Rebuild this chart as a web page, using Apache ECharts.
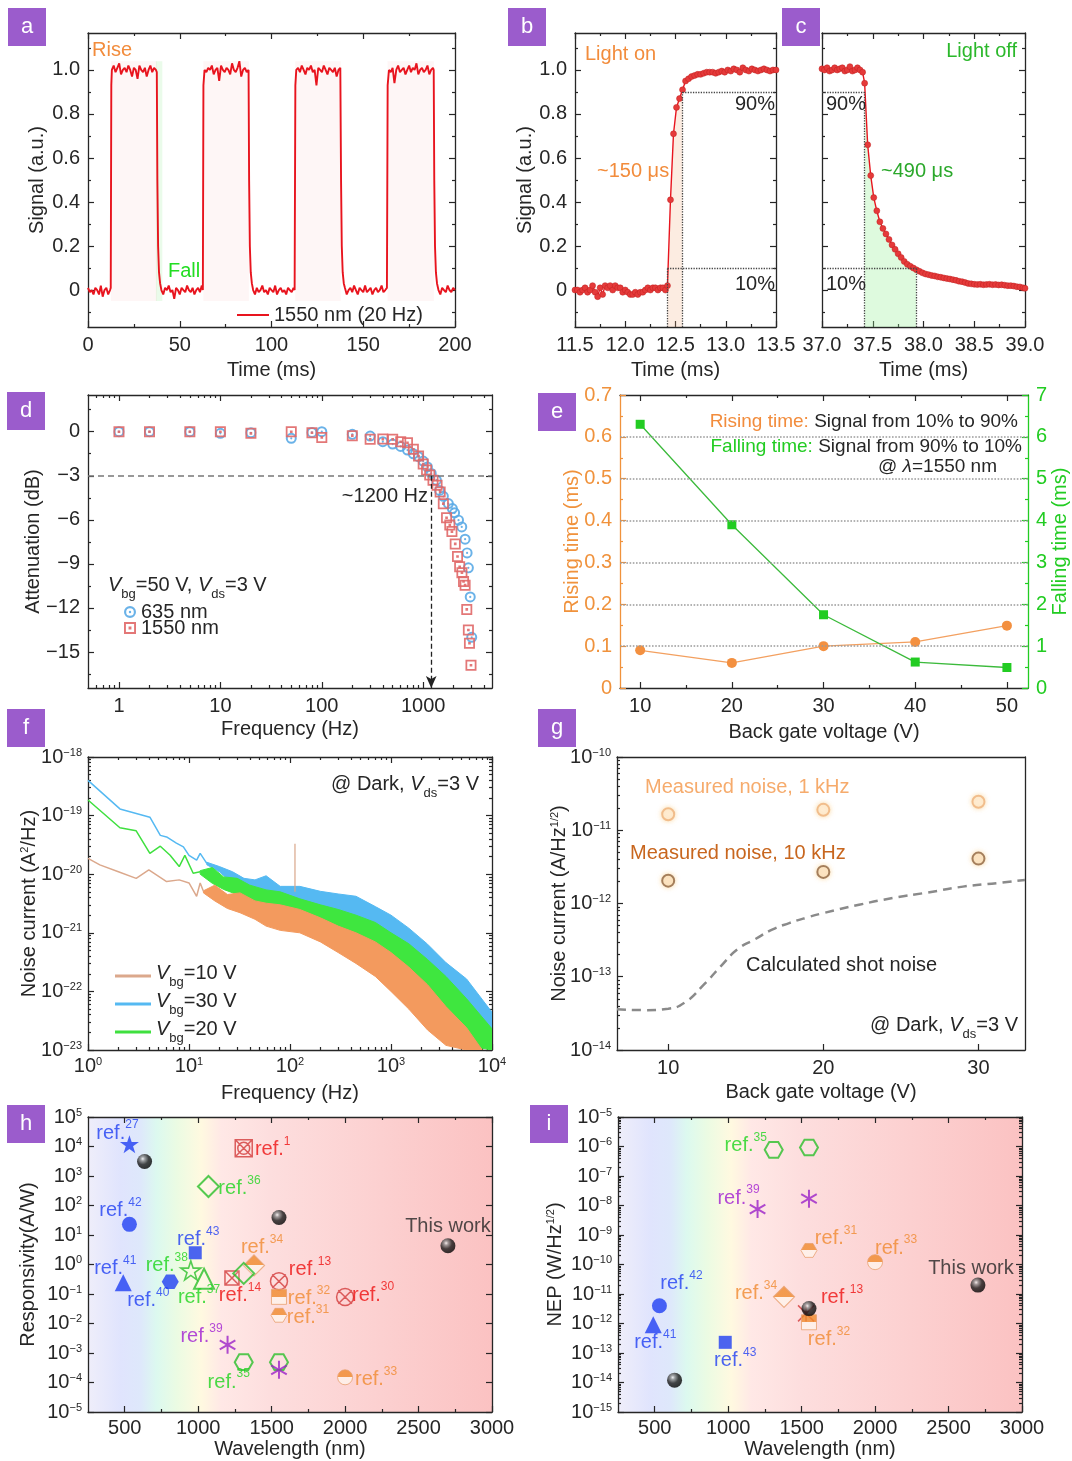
<!DOCTYPE html>
<html>
<head>
<meta charset="utf-8">
<script src="https://cdn.jsdelivr.net/npm/echarts@6/dist/echarts.min.js"></script>
<style>
  html, body { margin: 0; padding: 0; background: #fff; }
  #chart { width: 1072px; height: 1461px; }
</style>
</head>
<body>
<div id="chart"></div>
<script>
// ---------- data ----------

// a: square-wave response, 1550 nm at 20 Hz  [time ms, signal]
const aSignal = [
  [0,0.01],[1,-0.01],[2,0.00],[3,-0.02],[4,0.01],[5,0.00],[6,-0.02],[7,0.02],[8,-0.03],[9,0.00],[10,0.01],[11,-0.02],[12,0.00],[12.4,0.01],
  [12.7,0.93],[13,1.00],[14,1.02],[15,0.99],[16,1.01],[17,1.03],[18,0.98],[19,1.00],[20,1.01],[21,0.99],[22,1.02],[23,1.00],[24,0.97],[25,1.01],
  [26,1.00],[27,0.96],[28,1.02],[29,1.00],[30,0.99],[31,1.01],[32,0.97],[33,1.00],[34,1.02],[35,0.99],[36,1.01],[37,1.00],[37.5,0.99],
  [37.8,0.5],[38.2,0.2],[38.7,0.08],[39.3,0.03],
  [40,0.00],[41,-0.02],[42,0.01],[43,0.00],[44,0.02],[45,-0.01],[46,0.00],[47,-0.04],[48,0.01],[49,0.00],[50,-0.02],[51,0.01],[52,0.00],
  [53,-0.01],[54,0.02],[55,0.00],[56,-0.01],[57,0.01],[58,-0.02],[59,0.00],[60,0.01],[61,-0.01],[62,0.02],[62.6,0.00],
  [62.9,0.93],[63.5,1.00],[64.5,0.99],[65.5,1.01],[66.5,1.00],[67.5,1.02],[68.5,0.98],[69.5,1.00],[70.5,1.01],[71.5,0.95],[72.5,1.02],[73.5,1.00],
  [74.5,0.99],[75.5,1.01],[76.5,1.00],[77.5,0.98],[78.5,1.03],[79.5,1.00],[80.5,0.99],[81.5,1.01],[82.5,1.04],[83.5,0.97],[84.5,1.00],[85.5,1.01],
  [86.5,0.99],[87.5,1.00],
  [87.8,0.5],[88.2,0.2],[88.7,0.08],[89.3,0.03],
  [90,0.00],[91,-0.02],[92,0.01],[93,-0.01],[94,0.00],[95,0.02],[96,-0.01],[97,0.00],[98,-0.02],[99,0.01],[100,0.00],[101,-0.01],[102,0.02],
  [103,-0.02],[104,0.00],[105,0.01],[106,-0.01],[107,0.00],[108,-0.02],[109,0.01],[110,0.00],[111,-0.01],[112,0.01],[112.6,0.00],
  [113,0.93],[113.5,1.00],[114.5,1.01],[115.5,0.99],[116.5,1.02],[117.5,1.00],[118.5,0.98],[119.5,1.01],[120.5,1.00],[121.5,1.02],[122.5,0.99],
  [123.5,1.00],[124.5,0.93],[125.5,1.01],[126.5,1.00],[127.5,0.99],[128.5,1.02],[129.5,1.00],[130.5,0.98],[131.5,1.01],[132.5,1.00],[133.5,0.99],
  [134.5,1.01],[135.5,0.97],[136.5,1.00],[137.5,1.01],
  [137.9,0.5],[138.3,0.2],[138.8,0.08],[139.4,0.03],
  [140,0.01],[141,-0.02],[142,0.00],[143,0.01],[144,-0.01],[145,0.02],[146,0.00],[147,-0.02],[148,0.01],[149,0.00],[150,-0.01],[151,0.02],
  [152,-0.01],[153,0.00],[154,0.01],[155,-0.02],[156,0.00],[157,0.01],[158,-0.01],[159,0.00],[160,0.02],[161,-0.01],[162,0.00],[162.9,0.01],
  [163.3,0.93],[164,1.00],[165,0.99],[166,1.01],[167,0.94],[168,1.00],[169,1.02],[170,0.99],[171,1.00],[172,1.01],[173,0.98],[174,1.00],
  [175,1.02],[176,0.99],[177,1.01],[178,1.00],[179,1.03],[180,0.98],[181,1.00],[182,1.01],[183,0.99],[184,1.00],[185,1.02],[186,0.98],
  [187,1.00],[188,1.01],[188.4,1.00],
  [188.7,0.5],[189.1,0.2],[189.6,0.08],[190.2,0.03],
  [191,0.00],[192,-0.02],[193,0.01],[194,0.00],[195,-0.01],[196,0.02],[197,0.00],[198,-0.01],[199,0.01],[200,0.00]
];
const aOnRanges = [[12.5, 37.6], [62.8, 87.7], [112.9, 137.8], [163.2, 188.5]];
const aFallBand = [37, 40.5];

// b: rising edge
const bSignal = [
  [11.50,0.00],[11.525,0.00],[11.55,-0.01],[11.575,0.00],[11.60,0.01],[11.625,-0.01],[11.65,0.00],[11.675,0.02],[11.70,-0.01],[11.725,-0.03],
  [11.75,0.01],[11.775,-0.02],[11.80,0.02],[11.825,0.01],[11.85,0.02],[11.875,0.00],[11.90,0.02],[11.925,0.01],[11.95,0.01],[11.975,-0.01],
  [12.00,0.00],[12.025,-0.01],[12.05,-0.02],[12.075,-0.02],[12.10,-0.01],[12.125,-0.02],[12.15,-0.01],[12.175,-0.01],[12.20,0.00],[12.225,0.01],
  [12.25,0.00],[12.275,0.01],[12.30,0.01],[12.325,0.00],[12.35,0.01],[12.375,0.01],[12.40,0.00],[12.42,0.02],
  [12.45,0.41],[12.48,0.71],[12.51,0.83],[12.54,0.87],[12.57,0.91],[12.60,0.95],[12.63,0.96],[12.66,0.97],[12.69,0.975],[12.72,0.98],
  [12.75,0.98],[12.78,0.985],[12.81,0.99],[12.84,0.99],[12.87,0.99],[12.90,0.985],[12.93,0.99],[12.96,0.995],[12.99,0.99],[13.02,1.00],
  [13.05,0.995],[13.08,1.005],[13.11,1.00],[13.14,0.99],[13.17,1.01],[13.20,1.00],[13.23,0.995],[13.26,1.005],[13.29,1.00],[13.32,0.995],
  [13.35,1.00],[13.38,1.005],[13.41,1.00],[13.44,0.995],[13.47,1.00],[13.50,1.00]
];
const bRise = [12.42, 12.57];

// c: falling edge
const cSignal = [
  [37.00,1.005],[37.025,1.00],[37.05,1.01],[37.075,0.995],[37.10,1.00],[37.125,1.01],[37.15,1.00],[37.175,1.005],[37.20,1.01],[37.225,0.995],
  [37.25,1.00],[37.275,1.015],[37.30,0.995],[37.325,1.00],[37.35,1.01],[37.375,1.00],[37.40,0.99],[37.42,0.94],
  [37.45,0.66],[37.48,0.52],[37.51,0.42],[37.54,0.36],[37.57,0.31],[37.60,0.28],[37.63,0.255],[37.66,0.23],[37.69,0.205],[37.72,0.185],
  [37.75,0.165],[37.78,0.148],[37.81,0.13],[37.84,0.117],[37.87,0.108],[37.90,0.10],[37.93,0.092],[37.96,0.085],[37.99,0.078],[38.02,0.073],
  [38.05,0.07],[38.08,0.066],[38.11,0.064],[38.14,0.06],[38.17,0.058],[38.20,0.055],[38.23,0.052],[38.26,0.05],[38.29,0.047],[38.32,0.044],
  [38.35,0.04],[38.38,0.038],[38.41,0.034],[38.44,0.03],[38.47,0.028],[38.50,0.026],[38.53,0.025],[38.56,0.026],[38.59,0.024],[38.62,0.025],
  [38.65,0.026],[38.68,0.024],[38.71,0.025],[38.74,0.023],[38.77,0.024],[38.80,0.022],[38.83,0.02],[38.86,0.02],[38.89,0.018],[38.92,0.015],
  [38.95,0.014],[38.98,0.01],[39.00,0.008]
];
const cFall = [37.42, 37.93];

// d: frequency response
const dFreq635 = [1,2,5,10,20,50,80,100,200,300,400,500,600,700,800,900,1000,1100,1200,1350,1450,1580,1770,1940,2040,2230,2400,2590,2710,2790,2910,3010];
const dAtt635  = [0,0,0,-0.11,-0.07,-0.45,-0.05,0,-0.18,-0.3,-0.68,-0.84,-1.0,-1.25,-1.5,-1.7,-2.0,-2.4,-2.84,-3.3,-4.0,-4.4,-4.89,-5.23,-5.52,-6.02,-6.48,-7.32,-8.25,-9.27,-11.25,-14.0];
const dFreq1550 = [1,2,5,10,20,50,80,100,200,300,400,500,600,700,800,900,1000,1080,1160,1250,1370,1470,1580,1700,1830,1920,2070,2180,2290,2410,2500,2590,2690,2790,2860,2960];
const dAtt1550  = [0,0,0,0,-0.11,0,-0.07,-0.39,-0.27,-0.52,-0.5,-0.52,-0.68,-0.75,-1.2,-1.66,-2.2,-2.6,-2.95,-3.3,-3.64,-4.1,-4.9,-5.86,-6.36,-6.8,-7.64,-8.5,-9.2,-9.6,-10.2,-10.45,-12.1,-13.5,-14.4,-15.9];
const dCutoff = 1200;

// e: rise / fall times
const eVolt = [10, 20, 30, 40, 50];
const eRise = [0.09, 0.06, 0.10, 0.11, 0.149];
const eFall = [6.3, 3.9, 1.75, 0.62, 0.49];

// f: noise spectra (single line at low f, noisy band at high f)
const f30LineF = [1, 2.07, 4.1, 5.2, 6.0, 7.5, 8.8, 10, 11.9, 12.9, 15];
const f30Line  = [4.0e-19, 1.3e-19, 9.4e-20, 4.6e-20, 4.33e-20, 3.4e-20, 2.93e-20, 2.1e-20, 1.74e-20, 2.26e-20, 1.53e-20];
const f30BandF = [15, 20, 27, 35, 45, 58, 80, 125, 200, 300, 450, 700, 1000, 1500, 2300, 3500, 5600, 10000];
const f30Hi    = [1.6e-20, 1.35e-20, 1.1e-20, 8.5e-21, 8.0e-21, 9.4e-21, 6.2e-21, 6.2e-21, 5.1e-21, 4.6e-21, 4.2e-21, 2.8e-21, 2.0e-21, 1.2e-21, 6.4e-22, 3.1e-22, 1.63e-22, 4.4e-23];
const f30Lo    = [1.45e-20, 1.1e-20, 7.0e-21, 6.0e-21, 5.0e-21, 4.2e-21, 3.4e-21, 2.5e-21, 1.8e-21, 1.2e-21, 8.5e-22, 5.5e-22, 3.5e-22, 2.0e-22, 1.0e-22, 4.5e-23, 2.0e-23, 1e-23];
const f20LineF = [1, 2.07, 3, 4.1, 5.2, 6.5, 8, 9.1, 11, 12.9];
const f20Line  = [1.85e-19, 6.2e-20, 5.5e-20, 2.26e-20, 3.0e-20, 2.1e-20, 1.35e-20, 2.1e-20, 1.04e-20, 1.1e-20];
const f20BandF = [12.9, 17, 22, 30, 40, 58, 80, 125, 200, 300, 450, 700, 1000, 1500, 2300, 3500, 5600, 10000];
const f20Hi    = [1.15e-20, 1.3e-20, 9.0e-21, 8.5e-21, 6.5e-21, 5.4e-21, 5.0e-21, 3.8e-21, 3.0e-21, 2.5e-21, 2.0e-21, 1.5e-21, 1.0e-21, 6.5e-22, 3.5e-22, 1.8e-22, 7.5e-23, 2.3e-23];
const f20Lo    = [1.0e-20, 7.0e-21, 5.5e-21, 4.5e-21, 3.5e-21, 2.5e-21, 2.0e-21, 1.2e-21, 9.0e-22, 6.8e-22, 4.6e-22, 2.8e-22, 1.6e-22, 9.0e-23, 4.5e-23, 2.2e-23, 1.2e-23, 1e-23];
const f10LineF = [1, 1.31, 2, 3, 4, 6, 8, 10, 11.9, 12.9, 13.9];
const f10Line  = [1.86e-20, 1.44e-20, 1.1e-20, 8.5e-21, 1.18e-20, 7.5e-21, 8e-21, 7.1e-21, 4.2e-21, 7.1e-21, 5.1e-21];
const f10BandF = [13.9, 18, 24, 32, 45, 58, 80, 125, 200, 300, 450, 700, 1000, 1500, 2300, 3500, 5600, 8000];
const f10Hi    = [5.2e-21, 6.5e-21, 4.5e-21, 4.8e-21, 3.5e-21, 3.2e-21, 3.0e-21, 2.5e-21, 1.8e-21, 1.3e-21, 1.0e-21, 7.0e-22, 4.6e-22, 2.6e-22, 1.3e-22, 5.5e-23, 2.4e-23, 1e-23];
const f10Lo    = [4.8e-21, 3.5e-21, 2.6e-21, 2.2e-21, 1.7e-21, 1.3e-21, 1.1e-21, 1.0e-21, 7.0e-22, 4.6e-22, 3.0e-22, 1.8e-22, 1.0e-22, 5.0e-23, 2.2e-23, 1.2e-23, 1e-23, 1e-23];
const f10Spike = [[112, 5e-21], [112, 3.3e-20]];

// g: noise vs gate voltage
const gVolt = [10, 20, 30];
const g1k   = [1.65e-11, 1.9e-11, 2.45e-11];
const g10k  = [2.05e-12, 2.7e-12, 4.1e-12];
const gShotV = [6.7, 8.5, 10, 11.1, 12.25, 13.4, 14.5, 15.6, 16.7, 17.8, 18.9, 20, 22.3, 24.5, 26.7, 29, 31.2, 33];
const gShot  = [3.6e-14, 3.5e-14, 3.66e-14, 4.5e-14, 7.6e-14, 1.4e-13, 2.4e-13, 3.25e-13, 4.4e-13, 5.4e-13, 6.4e-13, 7.4e-13, 9.6e-13, 1.19e-12, 1.41e-12, 1.7e-12, 1.9e-12, 2.1e-12];

// h: responsivity comparison
const hWave = [532, 635, 1070, 1310, 532, 1550, 2700, 980, 1380, 490, 810, 950, 1040, 1230, 1310, 1550, 1550, 1550, 2000, 1200, 1310, 1550, 1550, 2000];
const hResp = [1.2e4, 3.1e3, 440, 8.7e3, 23, 39, 4.3, 2.5, 0.93, 0.24, 0.26, 0.63, 0.33, 0.35, 0.5, 0.27, 0.08, 0.019, 0.079, 1.9e-3, 4.9e-4, 4.9e-4, 2.7e-4, 1.5e-4];
const hKind = ['starB','ball','diaG','sqxcR','circB','ball','ball','sqB','diaO','triB','hexB','starG','triG','sqxR','diaG','cxR','sqO','hexO','cxR','astP','hexG','hexG','astP','circO'];
const hRef  = ['27','','36','1','42','','This work','43','34','41','40','38','37','14','','13','32','31','30','39','35','','','33'];

// i: NEP comparison
const iWave = [1310, 1550, 1200, 1550, 1550, 2000, 2700, 1380, 1530, 1550, 1550, 532, 490, 980, 635];
const iNep  = [7.7e-7, 9.2e-7, 7.6e-9, 1.7e-8, 3.0e-10, 1.2e-10, 2.0e-11, 8e-12, 2.2e-12, 1.1e-12, 3.2e-12, 4e-12, 9e-13, 2.3e-13, 1.2e-14];
const iKind = ['hexG','hexG','astP','astP','hexO','circO','ball','diaO','xR','sqO','ball','circB','triB','sqB','ball'];
const iRef  = ['35','','39','','31','33','This work','34','13','32','','42','41','43',''];

// tick lists
const sigMajor = [0, 0.2, 0.4, 0.6, 0.8, 1.0];
const sigMinor = [-0.1, 0.1, 0.3, 0.5, 0.7, 0.9, 1.1];
const decades = (a, b) => { const r = []; for (let k = a; k <= b; k++) r.push(Math.pow(10, k)); return r; };
const logMinor = (a, b) => { const r = []; for (let k = a; k < b; k++) for (let m = 2; m <= 9; m++) r.push(m * Math.pow(10, k)); return r; };

// ---------- style ----------
const FONT = '"Liberation Sans", Arial, Helvetica, sans-serif';
const INK = '#262626';
const PURPLE = '#9b5ccc';
const ORANGE = '#f28c3c';
const GREEN = '#22cc22';
const RED = '#e8141e';
const BLUE = '#1f3ff2';

const RICH = {
  b: { fontSize: 20, fontFamily: FONT, lineHeight: 20, verticalAlign: 'bottom' },
  e: { fontSize: 11, fontFamily: FONT, lineHeight: 12, verticalAlign: 'top' },
  n: { fontSize: 20, fontFamily: FONT, lineHeight: 26, verticalAlign: 'top' },
  i: { fontSize: 20, fontFamily: FONT, fontStyle: 'italic', lineHeight: 26, verticalAlign: 'top' },
  d: { fontSize: 13, fontFamily: FONT, lineHeight: 13, verticalAlign: 'bottom' },
  o: { fill: ORANGE, color: ORANGE, fontSize: 19, fontFamily: FONT },
  g: { fill: GREEN, color: GREEN, fontSize: 19, fontFamily: FONT },
  k: { fill: INK, color: INK, fontSize: 19, fontFamily: FONT },
  ki: { fill: INK, color: INK, fontSize: 19, fontFamily: FONT, fontStyle: 'italic' }
};

const f1 = v => v === 0 ? '0' : v.toFixed(1);
const pow10 = v => { const k = Math.round(Math.log10(v)); return '{b|10}{e|' + (k < 0 ? '\u2212' + (-k) : k) + '}'; };

const grids = [], xAxes = [], yAxes = [], series = [], legends = [], graphics = [];

function axisObj(gi, pos, s, minorMode) {
  const col = s.color || INK;
  const o = {
    type: s.type || 'value', gridIndex: gi, position: pos, min: s.min, max: s.max,
    silent: true, splitLine: { show: false }, nameMoveOverlap: false,
    axisLine: { show: !minorMode && s.line !== false, onZero: false, lineStyle: { color: col, width: 1.3 } },
    axisTick: { show: false }, axisLabel: { show: false }
  };
  if (o.type === 'log') o.logBase = 10;
  const vals = minorMode ? s.minor : s.major;
  if (vals && vals.length) {
    o.axisTick = { show: true, inside: true, length: minorMode ? 3 : 6, customValues: vals, lineStyle: { color: col, width: 1.2 } };
  }
  if (!minorMode && s.fmt) {
    o.axisLabel = { show: true, customValues: s.major, formatter: s.fmt, color: s.labelColor || col,
      fontSize: 20, fontFamily: FONT, margin: s.margin || 8, rich: RICH };
  }
  if (!minorMode && s.name) {
    o.name = s.name; o.nameLocation = 'middle'; o.nameGap = s.nameGap;
    o.nameTextStyle = { color: s.nameColor || col, fontSize: 20, fontFamily: FONT, rich: RICH };
  }
  return o;
}
const mirror = s => Object.assign({}, s, { fmt: null, name: '' });

function makePanel(box, sp) {
  const gi = grids.length;
  const g = { left: box[0], top: box[1], width: box[2], height: box[3], containLabel: false, outerBoundsMode: 'none', borderWidth: 0 };
  grids.push(Object.assign({ show: !!sp.bg, backgroundColor: sp.bg || 'transparent' }, g));
  grids.push(Object.assign({ show: false }, g));
  const top = sp.top || mirror(sp.bottom), right = sp.right || mirror(sp.left);
  const res = { x: xAxes.length };
  xAxes.push(axisObj(gi, 'bottom', sp.bottom, false), axisObj(gi, 'top', top, false),
             axisObj(gi + 1, 'bottom', sp.bottom, true), axisObj(gi + 1, 'top', top, true));
  res.y = yAxes.length; res.y2 = res.y + 1;
  yAxes.push(axisObj(gi, 'left', sp.left, false), axisObj(gi, 'right', right, false),
             axisObj(gi + 1, 'left', sp.left, true), axisObj(gi + 1, 'right', right, true));
  return res;
}

function txt(x, y, text, o) {
  o = o || {};
  return { type: 'text', x: x, y: y, z: 100, silent: true,
    style: { text: text, fill: o.color || INK, fontSize: o.size || 20, fontFamily: FONT,
      align: o.align || 'left', verticalAlign: 'middle', textAlign: o.align || 'left', textVerticalAlign: 'middle', rich: RICH } };
}
function tag(letter, x, y) {
  graphics.push({ type: 'rect', z: 100, silent: true, shape: { x: x, y: y, width: 38, height: 38 }, style: { fill: PURPLE } });
  graphics.push({ type: 'text', z: 101, silent: true, x: x + 19, y: y + 19,
    style: { text: letter, fill: '#fff', fontSize: 22, fontFamily: FONT, align: 'center', verticalAlign: 'middle', textAlign: 'center', textVerticalAlign: 'middle' } });
}
const dotted = (data, extra) => Object.assign({ silent: true, symbol: 'none', label: { show: false },
  lineStyle: { type: 'dotted', color: '#444', width: 1.3 }, data: data }, extra || {});

// ---------- a ----------
const A = makePanel([88, 33, 367, 294], {
  bottom: { min: 0, max: 200, major: [0, 50, 100, 150, 200], minor: [25, 75, 125, 175], fmt: v => String(v), name: 'Time (ms)', nameGap: 33 },
  left: { min: -0.168, max: 1.168, major: sigMajor, minor: sigMinor, fmt: f1, name: 'Signal (a.u.)', nameGap: 41 }
});
series.push({
  type: 'line', name: '1550 nm (20 Hz)', xAxisIndex: A.x, yAxisIndex: A.y, data: aSignal, symbol: 'none', showSymbol: false,
  lineStyle: { color: RED, width: 1.9 }, itemStyle: { color: RED }, z: 3,
  markArea: { silent: true, data: aOnRanges.map(r => [{ xAxis: r[0], yAxis: -0.05, itemStyle: { color: 'rgba(250,200,200,0.17)' } }, { xAxis: r[1], yAxis: 1.04 }])
    .concat([[{ xAxis: aFallBand[0], yAxis: -0.05, itemStyle: { color: 'rgba(150,235,150,0.2)' } }, { xAxis: aFallBand[1], yAxis: 1.04 }]]) }
});
legends.push({ left: 232, top: 300, selectedMode: false, data: ['1550 nm (20 Hz)'], itemWidth: 32, itemHeight: 2, icon: 'rect',
  textStyle: { fontSize: 20, fontFamily: FONT, color: INK } });

// ---------- b ----------
const B = makePanel([575, 33, 201, 294], {
  bottom: { min: 11.5, max: 13.5, major: [11.5, 12, 12.5, 13, 13.5], minor: [11.75, 12.25, 12.75, 13.25], fmt: v => v.toFixed(1), name: 'Time (ms)', nameGap: 33 },
  left: { min: -0.168, max: 1.168, major: sigMajor, minor: sigMinor, fmt: f1, name: 'Signal (a.u.)', nameGap: 40 }
});
series.push({ type: 'line', xAxisIndex: B.x, yAxisIndex: B.y, symbol: 'none', lineStyle: { width: 0 },
  data: bSignal.filter(p => p[0] >= bRise[0] && p[0] <= bRise[1]),
  areaStyle: { color: 'rgba(244,178,130,0.35)', origin: 'start' } });
series.push({ type: 'line', xAxisIndex: B.x, yAxisIndex: B.y, data: bSignal, symbol: 'circle', symbolSize: 6,
  lineStyle: { color: RED, width: 1.4 }, itemStyle: { color: '#e53a3a', borderColor: '#c02020', borderWidth: 0.5 },
  markLine: dotted([
    [{ coord: [bRise[1], 0.9] }, { coord: [13.5, 0.9] }],
    [{ coord: [bRise[0], 0.1] }, { coord: [13.5, 0.1] }],
    [{ coord: [bRise[0], -0.168] }, { coord: [bRise[0], 0.1] }],
    [{ coord: [bRise[1], -0.168] }, { coord: [bRise[1], 0.9] }]
  ]) });

// ---------- c ----------
const C = makePanel([822, 33, 203, 294], {
  bottom: { min: 37, max: 39, major: [37, 37.5, 38, 38.5, 39], minor: [37.25, 37.75, 38.25, 38.75], fmt: v => v.toFixed(1), name: 'Time (ms)', nameGap: 33 },
  left: { min: -0.168, max: 1.168, major: sigMajor, minor: sigMinor }
});
series.push({ type: 'line', xAxisIndex: C.x, yAxisIndex: C.y, symbol: 'none', lineStyle: { width: 0 },
  data: cSignal.filter(p => p[0] >= cFall[0] && p[0] <= cFall[1]),
  areaStyle: { color: 'rgba(150,240,150,0.45)', origin: 'start' } });
series.push({ type: 'line', xAxisIndex: C.x, yAxisIndex: C.y, data: cSignal, symbol: 'circle', symbolSize: 6,
  lineStyle: { color: RED, width: 1.4 }, itemStyle: { color: '#e53a3a', borderColor: '#c02020', borderWidth: 0.5 },
  markLine: dotted([
    [{ coord: [37, 0.9] }, { coord: [cFall[0], 0.9] }],
    [{ coord: [37, 0.1] }, { coord: [cFall[1], 0.1] }],
    [{ coord: [cFall[0], -0.168] }, { coord: [cFall[0], 0.9] }],
    [{ coord: [cFall[1], -0.168] }, { coord: [cFall[1], 0.1] }]
  ]) });

// ---------- d ----------
const RING = 'path://M50,0 A50,50 0 1 1 50,100 A50,50 0 1 1 50,0 Z M50,18 A32,32 0 1 0 50,82 A32,32 0 1 0 50,18 Z M50,40 A10,10 0 1 1 50,60 A10,10 0 1 1 50,40 Z';
const SQR = 'path://M0,0 L100,0 L100,100 L0,100 Z M16,16 L16,84 L84,84 L84,16 Z M38,38 L62,38 L62,62 L38,62 Z';
const D = makePanel([88, 395, 404, 293], {
  bottom: { type: 'log', min: 0.495, max: 4770, major: [1, 10, 100, 1000],
    minor: [0.6, 0.7, 0.8, 0.9].concat(logMinor(0, 3)).concat([2000, 3000, 4000]), fmt: v => String(Math.round(v)), name: 'Frequency (Hz)', nameGap: 31 },
  left: { min: -17.45, max: 2.5, major: [0, -3, -6, -9, -12, -15], minor: [1.5, -1.5, -4.5, -7.5, -10.5, -13.5, -16.5],
    fmt: v => v === 0 ? '0' : '\u2212' + Math.abs(v), name: 'Attenuation (dB)', nameGap: 45 }
});
series.push({ type: 'scatter', name: '635 nm', xAxisIndex: D.x, yAxisIndex: D.y, symbol: RING, symbolSize: 11,
  data: dFreq635.map((f, k) => [f, dAtt635[k]]), itemStyle: { color: '#5aaae6', opacity: 0.9 },
  markLine: { silent: true, symbol: 'none', label: { show: false }, lineStyle: { type: [6, 4], color: '#777', width: 1.6 }, data: [{ yAxis: -3 }] } });
series.push({ type: 'scatter', name: '1550 nm', xAxisIndex: D.x, yAxisIndex: D.y, symbol: SQR, symbolSize: 11,
  data: dFreq1550.map((f, k) => [f, dAtt1550[k]]), itemStyle: { color: '#e06868', opacity: 0.9 },
  markLine: { silent: true, symbol: ['none', 'arrow'], symbolSize: [8, 12], label: { show: false },
    lineStyle: { type: [5, 3], color: '#222', width: 1.3 },
    data: [[{ coord: [dCutoff, -3] }, { coord: [dCutoff, -17.45] }]] } });
legends.push({ left: 119, top: 597, orient: 'vertical', selectedMode: false, itemGap: -4, itemWidth: 12, itemHeight: 12,
  data: ['635 nm', '1550 nm'], textStyle: { fontSize: 20, fontFamily: FONT, color: INK, lineHeight: 18 } });

// ---------- e ----------
const E = makePanel([620, 395, 408, 293], {
  bottom: { min: 7.8, max: 52.3, major: [10, 20, 30, 40, 50], minor: [15, 25, 35, 45], fmt: v => String(v), name: 'Back gate voltage (V)', nameGap: 34 },
  left: { min: 0, max: 0.7, major: [0, 0.1, 0.2, 0.3, 0.4, 0.5, 0.6, 0.7], minor: [0.05, 0.15, 0.25, 0.35, 0.45, 0.55, 0.65],
    fmt: f1, color: '#f0923c', name: 'Rising time (ms)', nameGap: 38 },
  right: { min: 0, max: 7, major: [0, 1, 2, 3, 4, 5, 6, 7], minor: [0.5, 1.5, 2.5, 3.5, 4.5, 5.5, 6.5],
    fmt: v => String(v), color: GREEN, name: 'Falling time (ms)', nameGap: 22 }
});
series.push({ type: 'line', xAxisIndex: E.x, yAxisIndex: E.y, data: eVolt.map((v, k) => [v, eRise[k]]),
  symbol: 'circle', symbolSize: 10, lineStyle: { color: '#f3a060', width: 1.3 }, itemStyle: { color: '#f39040' }, z: 3,
  markLine: { silent: true, symbol: 'none', label: { show: false }, lineStyle: { type: 'dotted', color: '#9a9a9a', width: 1.6 },
    data: [0.1, 0.2, 0.3, 0.4, 0.5, 0.6].map(v => ({ yAxis: v })) } });
series.push({ type: 'line', xAxisIndex: E.x, yAxisIndex: E.y2, data: eVolt.map((v, k) => [v, eFall[k]]),
  symbol: 'rect', symbolSize: 9, lineStyle: { color: '#3cba3c', width: 1.3 }, itemStyle: { color: GREEN }, z: 4 });

// ---------- f ----------
const F = makePanel([88, 757, 404, 293], {
  bottom: { type: 'log', min: 1, max: 1e4, major: decades(0, 4), minor: logMinor(0, 4), fmt: pow10, name: 'Frequency (Hz)', nameGap: 33, margin: 6 },
  left: { type: 'log', min: 1e-23, max: 1e-18, major: decades(-23, -18), minor: logMinor(-23, -18), fmt: pow10,
    name: '{b|Noise current (A}{e|2}{b|/Hz)}', nameGap: 49, margin: 6 }
});
function bandSeries(ax, fr, hi, lo, color) {
  return { type: 'custom', xAxisIndex: ax.x, yAxisIndex: ax.y, clip: true, silent: true, data: [[fr[0], hi[0]]],
    renderItem: (params, api) => {
      const pts = fr.map((f, k) => api.coord([f, hi[k]])).concat(fr.map((f, k) => api.coord([f, lo[k]])).reverse());
      return { type: 'polygon', shape: { points: pts }, style: { fill: color, stroke: color, lineWidth: 1 } };
    } };
}
const fLine = (name, fr, v, color) => ({ type: 'line', name: name, xAxisIndex: F.x, yAxisIndex: F.y, symbol: 'none',
  data: fr.map((f, k) => [f, v[k]]), lineStyle: { color: color, width: 1.5 }, itemStyle: { color: color } });
series.push(fLine('Vbg=30 V', f30LineF, f30Line, '#55b9f2'), bandSeries(F, f30BandF, f30Hi, f30Lo, '#55b9f2'));
series.push(fLine('Vbg=20 V', f20LineF, f20Line, '#3fe03f'), bandSeries(F, f20BandF, f20Hi, f20Lo, '#3fe63f'));
series.push(fLine('Vbg=10 V', f10LineF, f10Line, '#dba88c'), bandSeries(F, f10BandF, f10Hi, f10Lo, '#f39a5e'));
series.push({ type: 'line', xAxisIndex: F.x, yAxisIndex: F.y, symbol: 'none', data: f10Spike, lineStyle: { color: '#d9a68a', width: 1.2 } });
legends.push({ left: 110, top: 958, orient: 'vertical', selectedMode: false, itemGap: 2, itemWidth: 36, itemHeight: 3, icon: 'rect',
  data: ['Vbg=10 V', 'Vbg=30 V', 'Vbg=20 V'], formatter: n => '{i|V}{d|bg}{n|' + n.slice(3) + '}',
  textStyle: { fontSize: 20, fontFamily: FONT, color: INK, rich: RICH } });

// ---------- g ----------
const G = makePanel([617, 757, 408, 293], {
  bottom: { min: 6.7, max: 33, major: [10, 20, 30], fmt: v => String(v), name: 'Back gate voltage (V)', nameGap: 32 },
  top: { min: 6.7, max: 33 },
  left: { type: 'log', min: 1e-14, max: 1e-10, major: decades(-14, -10), minor: logMinor(-14, -10), fmt: pow10,
    name: '{b|Noise current (A/Hz}{e|1/2}{b|)}', nameGap: 48, margin: 6 },
  right: { type: 'log', min: 1e-14, max: 1e-10 }
});
series.push({ type: 'line', xAxisIndex: G.x, yAxisIndex: G.y, symbol: 'none', smooth: true,
  data: gShotV.map((v, k) => [v, gShot[k]]), lineStyle: { color: '#8a8a8a', width: 2.5, type: [9, 6] },
  markLine: { silent: true, symbol: 'none', label: { show: false }, lineStyle: { type: 'dotted', color: '#b0b0b0', width: 1.6 },
    data: [1e-11, 1e-12, 1e-13].map(v => ({ yAxis: v })) } });
series.push({ type: 'scatter', xAxisIndex: G.x, yAxisIndex: G.y, symbolSize: 12, data: gVolt.map((v, k) => [v, g1k[k]]),
  itemStyle: { color: '#fff3e2', borderColor: '#eeb27a', borderWidth: 2, shadowBlur: 5, shadowColor: 'rgba(250,200,120,0.7)' } });
series.push({ type: 'scatter', xAxisIndex: G.x, yAxisIndex: G.y, symbolSize: 12, data: gVolt.map((v, k) => [v, g10k[k]]),
  itemStyle: { color: '#fbe6cc', borderColor: '#8e6440', borderWidth: 2, shadowBlur: 5, shadowColor: 'rgba(250,200,120,0.7)' } });

// ---------- h / i ----------
const SPECTRUM = () => new echarts.graphic.LinearGradient(0, 0, 1, 0, [
  { offset: 0, color: '#efeefa' }, { offset: 0.08, color: '#e0e4fd' }, { offset: 0.13, color: '#dee8fb' },
  { offset: 0.17, color: '#dcf9ef' }, { offset: 0.22, color: '#ebfbe3' }, { offset: 0.28, color: '#fff9e0' },
  { offset: 0.33, color: '#ffe8e6' }, { offset: 0.45, color: '#fddede' }, { offset: 1, color: '#fbc2c2' }]);
const HALF_O = new echarts.graphic.LinearGradient(0, 0, 0, 1, [
  { offset: 0, color: '#f08a2c' }, { offset: 0.5, color: '#f08a2c' }, { offset: 0.5, color: '#fff4ec' }, { offset: 1, color: '#fff4ec' }]);
const BALL = new echarts.graphic.RadialGradient(0.38, 0.32, 0.7, [
  { offset: 0, color: '#f4f4f4' }, { offset: 0.2, color: '#8a8a8a' }, { offset: 0.55, color: '#1a1a1a' }, { offset: 1, color: '#000' }]);
const SYM = {
  star: 'path://M50,0 L61.2,34.5 L97.6,34.5 L68.2,55.9 L79.4,90.5 L50,69.1 L20.6,90.5 L31.8,55.9 L2.4,34.5 L38.8,34.5 Z',
  hex: 'path://M25,0 L75,0 L100,43.3 L75,86.6 L25,86.6 L0,43.3 Z',
  ast: 'path://M50,0 L50,100 M6.7,25 L93.3,75 M6.7,75 L93.3,25',
  sqx: 'path://M0,0 L100,0 L100,100 L0,100 Z M0,0 L100,100 M100,0 L0,100',
  sqxc: 'path://M0,0 L100,0 L100,100 L0,100 Z M0,0 L100,100 M100,0 L0,100 M85,50 A35,35 0 1 1 15,50 A35,35 0 1 1 85,50',
  cx: 'path://M100,50 A50,50 0 1 1 0,50 A50,50 0 1 1 100,50 Z M10,10 L90,90 M90,10 L10,90',
  x: 'path://M0,0 L100,100 M100,0 L0,100 M50,0 L50,100'
};
const CLR = { B: BLUE, G: '#2bbf2b', R: '#d23a3a', O: '#e8a070', P: '#9b22c8' };
const LBL = { B: '#1f3ff2', G: '#1ed41e', R: '#ee1010', O: '#f08a30', P: '#a01ed2', ball: INK };
const CLEAR = 'rgba(255,255,255,0.15)';
const KIND = {
  starB: { symbol: SYM.star, size: 19, color: BLUE },
  circB: { symbol: 'circle', size: 15, color: BLUE },
  sqB:   { symbol: 'rect', size: 13, color: BLUE },
  triB:  { symbol: 'triangle', size: 17, color: BLUE },
  hexB:  { symbol: SYM.hex, size: 17, color: BLUE },
  ball:  { symbol: 'circle', size: 15, color: BALL },
  diaG:  { symbol: 'diamond', size: 21, color: CLEAR, border: CLR.G, bw: 2 },
  starG: { symbol: SYM.star, size: 20, color: CLEAR, border: CLR.G, bw: 1.6 },
  triG:  { symbol: 'triangle', size: 20, color: CLEAR, border: CLR.G, bw: 2 },
  hexG:  { symbol: SYM.hex, size: 18, color: CLEAR, border: CLR.G, bw: 2 },
  sqxcR: { symbol: SYM.sqxc, size: 17, color: 'rgba(255,255,255,0)', border: CLR.R, bw: 1.5 },
  sqxR:  { symbol: SYM.sqx, size: 14, color: 'rgba(255,255,255,0)', border: CLR.R, bw: 1.5 },
  cxR:   { symbol: SYM.cx, size: 17, color: 'rgba(255,255,255,0)', border: CLR.R, bw: 1.5 },
  xR:    { symbol: SYM.x, size: 16, color: 'rgba(255,255,255,0)', border: CLR.R, bw: 1.5 },
  diaO:  { symbol: 'diamond', size: 21, color: HALF_O, border: CLR.O, bw: 1.2 },
  sqO:   { symbol: 'rect', size: 15, color: HALF_O, border: CLR.O, bw: 1 },
  hexO:  { symbol: SYM.hex, size: 16, color: HALF_O, border: CLR.O, bw: 1 },
  circO: { symbol: 'circle', size: 15, color: HALF_O, border: CLR.O, bw: 1 },
  astP:  { symbol: SYM.ast, size: 18, color: 'rgba(255,255,255,0)', border: CLR.P, bw: 2 }
};
// label centre offsets from the marker, px
const hOff = { '27': [-12, -13], '36': [31, 0], '1': [29, -1], '42': [-9, -16], 'This work': [0, -21], '43': [3, -15], '34': [8, -20],
  '41': [-8, -16], '40': [-22, 17], '38': [-24, -7], '37': [-5, 17], '14': [8, 16], '13': [31, -14], '32': [30, 0], '31': [29, 0],
  '30': [28, -4], '39': [-26, -10], '35': [-15, 18], '33': [31, 0] };
const iOff = { '35': [-28, -6], '39': [-19, -13], '31': [27, -14], '33': [21, -16], 'This work': [-7, -19], '34': [-28, -5],
  '13': [36, -18], '32': [20, 15], '42': [22, -24], '41': [2, 16], '43': [10, 16] };

function refSeries(ax, wave, vals, kinds, refs, offs) {
  return { type: 'scatter', xAxisIndex: ax.x, yAxisIndex: ax.y, symbolKeepAspect: true, z: 4,
    data: wave.map((w, k) => {
      const K = KIND[kinds[k]];
      const key = kinds[k] === 'ball' ? 'ball' : kinds[k].slice(-1);
      const col = LBL[key];
      const ref = refs[k];
      return { value: [w, vals[k]], symbol: K.symbol, symbolSize: K.size,
        itemStyle: { color: K.color, borderColor: K.border || 'rgba(0,0,0,0)', borderWidth: K.bw || 0 },
        label: ref ? { show: true, position: 'inside', offset: offs[ref],
          formatter: ref === 'This work' ? '{r|This work}' : '{r|ref.}{s|' + ref + '}',
          rich: { r: { color: col, fontSize: 20, fontFamily: FONT, lineHeight: 24, verticalAlign: 'bottom' },
                  s: { color: col, fontSize: 12, fontFamily: FONT, lineHeight: 12, verticalAlign: 'top' } } } : { show: false } };
    }) };
}

const waveAxis = { min: 250, max: 3000, major: [500, 1000, 1500, 2000, 2500, 3000], minor: [750, 1250, 1750, 2250, 2750],
  fmt: v => String(v), name: 'Wavelength (nm)', nameGap: 27, margin: 6 };
const H = makePanel([88, 1117, 404, 295], {
  bg: SPECTRUM(), bottom: waveAxis,
  left: { type: 'log', min: 1e-5, max: 1e5, major: decades(-5, 5), fmt: pow10, name: 'Responsivity(A/W)', nameGap: 50, margin: 6 }
});
series.push(refSeries(H, hWave, hResp, hKind, hRef, hOff));
const I = makePanel([618, 1117, 404, 295], {
  bg: SPECTRUM(), bottom: waveAxis,
  left: { type: 'log', min: 1e-15, max: 1e-5, major: decades(-15, -5), minor: logMinor(-15, -5), fmt: pow10,
    name: '{b|NEP (W/Hz}{e|1/2}{b|)}', nameGap: 53, margin: 6 }
});
series.push(refSeries(I, iWave, iNep, iKind, iRef, iOff));

// ---------- panel tags and annotations ----------
[['a', 8, 8], ['b', 508, 8], ['c', 782, 8], ['d', 7, 392], ['e', 538, 393], ['f', 7, 709], ['g', 538, 709], ['h', 7, 1105], ['i', 530, 1105]]
  .forEach(t => tag(t[0], t[1], t[2]));
graphics.push(
  txt(92, 50, 'Rise', { color: ORANGE }), txt(168, 271, 'Fall', { color: '#22dd22' }),
  txt(585, 54, 'Light on', { color: ORANGE }), txt(597, 171, '~150 \u03bcs', { color: ORANGE }),
  txt(775, 104, '90%', { align: 'right' }), txt(775, 284, '10%', { align: 'right' }),
  txt(1017, 51, 'Light off', { color: '#2bb82b', align: 'right' }), txt(881, 171, '~490 \u03bcs', { color: '#2ba82b' }),
  txt(826, 104, '90%'), txt(826, 284, '10%'),
  txt(428, 496, '~1200 Hz', { align: 'right' }),
  txt(108, 588, '{i|V}{d|bg}{n|=50 V, }{i|V}{d|ds}{n|=3 V}'),
  txt(1018, 422, '{o|Rising time:}{k| Signal from 10% to 90%}', { align: 'right' }),
  txt(1022, 447, '{g|Falling time:}{k| Signal from 90% to 10%}', { align: 'right' }),
  txt(997, 467, '{k|@ }{ki|\u03bb}{k|=1550 nm}', { align: 'right' }),
  txt(479, 787, '{n|@ Dark, }{i|V}{d|ds}{n|=3 V}', { align: 'right' }),
  txt(645, 787, 'Measured noise, 1 kHz', { color: '#f6ab6c' }),
  txt(630, 853, 'Measured noise, 10 kHz', { color: '#c8661e' }),
  txt(746, 965, 'Calculated shot noise'),
  txt(1018, 1028, '{n|@ Dark, }{i|V}{d|ds}{n|=3 V}', { align: 'right' })
);

const chart = echarts.init(document.getElementById('chart'), null, { renderer: 'canvas' });
chart.setOption({
  animation: false,
  backgroundColor: '#fff',
  textStyle: { fontFamily: FONT },
  grid: grids, xAxis: xAxes, yAxis: yAxes,
  legend: legends, series: series, graphic: graphics
});
</script>
</body>
</html>
